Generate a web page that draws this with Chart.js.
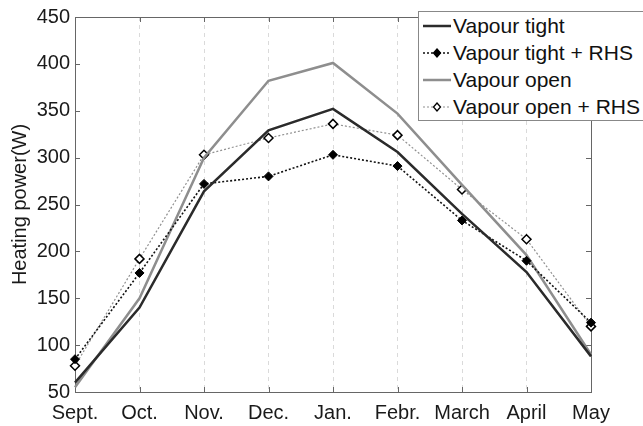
<!DOCTYPE html>
<html>
<head>
<meta charset="utf-8">
<style>
    body { margin: 0; background: #fff; }
    #wrap { position: relative; width: 643px; height: 426px; }
    #legend {
        position: absolute; left: 418px; top: 11px; width: 224px; height: 108px;
        border: 1px solid #888; border-right: none; background: #fff;
        font-family: 'Liberation Sans', Arial, sans-serif; font-size: 21px; color: #111;
    }
    .row { height: 27px; line-height: 27px; display: flex; align-items: center; white-space: nowrap; }
    .row svg { margin-left: 3px; margin-right: 1px; flex: none; }
</style>
</head>
<body>
<div id="wrap">
    <canvas id="heatChart" width="643" height="426"></canvas>
    <div id="legend"></div>
</div>

<script src="https://cdn.jsdelivr.net/npm/chart.js"></script>
<script>
    // data
    const months = ['Sept.', 'Oct.', 'Nov.', 'Dec.', 'Jan.', 'Febr.', 'March', 'April', 'May'];
    const vapourTight = [60, 140, 264, 329, 352, 306, 240, 178, 88];
    const vapourTightRHS = [85, 177, 272, 280, 303, 291, 233, 190, 124];
    const vapourOpen = [55, 150, 300, 382, 401, 347, 271, 196, 90];
    const vapourOpenRHS = [78, 192, 303, 321, 336, 324, 266, 213, 120];
    const yTicks = [50, 100, 150, 200, 250, 300, 350, 400, 450];

    const FONT = "'Liberation Sans', Arial, sans-serif";

    // box around plot + inward tick marks (matlab look)
    const boxPlugin = {
        id: 'box',
        beforeDatasetsDraw(chart) {
            const {ctx, chartArea: a, scales} = chart;
            ctx.save();
            ctx.strokeStyle = '#666';
            ctx.lineWidth = 1;
            ctx.beginPath();
            yTicks.forEach(v => {
                const y = Math.round(scales.y.getPixelForValue(v)) + 0.5;
                ctx.moveTo(a.left, y); ctx.lineTo(a.left + 5, y);
                ctx.moveTo(a.right, y); ctx.lineTo(a.right - 5, y);
            });
            months.forEach((m, i) => {
                const x = Math.round(scales.x.getPixelForValue(i)) + 0.5;
                ctx.moveTo(x, a.bottom); ctx.lineTo(x, a.bottom - 5);
                ctx.moveTo(x, a.top); ctx.lineTo(x, a.top + 5);
            });
            ctx.stroke();
            ctx.strokeRect(Math.round(a.left) + 0.5, Math.round(a.top) + 0.5,
                Math.round(a.right - a.left), Math.round(a.bottom - a.top));
            ctx.restore();
        }
    };

    const datasets = [
        {
            label: 'Vapour tight',
            data: vapourTight,
            borderColor: '#2b2b2b',
            borderWidth: 2.5,
            pointRadius: 0,
            tension: 0
        },
        {
            label: 'Vapour tight + RHS',
            data: vapourTightRHS,
            borderColor: '#111',
            borderWidth: 1.6,
            borderDash: [2, 2],
            pointStyle: 'rectRot',
            pointRadius: 4.5,
            pointBackgroundColor: '#000',
            pointBorderColor: '#000',
            pointBorderWidth: 1,
            tension: 0
        },
        {
            label: 'Vapour open',
            data: vapourOpen,
            borderColor: '#8e8e8e',
            borderWidth: 2.5,
            pointRadius: 0,
            tension: 0
        },
        {
            label: 'Vapour open + RHS',
            data: vapourOpenRHS,
            borderColor: '#909090',
            borderWidth: 1.2,
            borderDash: [2, 2],
            pointStyle: 'rectRot',
            pointRadius: 4.5,
            pointBackgroundColor: '#fff',
            pointBorderColor: '#000',
            pointBorderWidth: 1.5,
            tension: 0
        }
    ];

    new Chart(document.getElementById('heatChart').getContext('2d'), {
        type: 'line',
        data: { labels: months, datasets: datasets },
        options: {
            responsive: false,
            animation: false,
            layout: { padding: { left: 0, top: 16, right: 52, bottom: 0 } },
            scales: {
                x: {
                    offset: false,
                    grid: { color: '#dadada', drawTicks: false, lineWidth: 1 },
                    border: { display: false, dash: [4, 4] },
                    ticks: {
                        autoSkip: false, maxRotation: 0, padding: 9,
                        color: '#1a1a1a', font: { family: FONT, size: 20 }
                    },
                    afterFit: s => { s.height = 34; }
                },
                y: {
                    min: 50,
                    max: 450,
                    grid: { display: false, drawTicks: false },
                    border: { display: false },
                    ticks: {
                        stepSize: 50, padding: 5,
                        color: '#1a1a1a', font: { family: FONT, size: 20 }
                    },
                    title: {
                        display: true,
                        text: 'Heating power(W)',
                        color: '#1a1a1a',
                        font: { family: FONT, size: 20 },
                        padding: { top: 8, bottom: 0 }
                    },
                    afterFit: s => { s.width = 75; }
                }
            },
            plugins: {
                legend: { display: false },
                tooltip: { enabled: false }
            }
        },
        plugins: [boxPlugin]
    });

    // legend drawn as html so it can sit over the plot corner
    function swatch(ds) {
        const dash = ds.borderDash ? ' stroke-dasharray="2 2"' : '';
        let s = '<svg width="30" height="14"><line x1="1" y1="7" x2="29" y2="7" stroke="' + ds.borderColor +
            '" stroke-width="' + ds.borderWidth + '"' + dash + '/>';
        if (ds.pointRadius) {
            s += '<polygon points="15,3 18.5,7 15,11 11.5,7" fill="' + ds.pointBackgroundColor +
                '" stroke="#000" stroke-width="1.3"/>';
        }
        return s + '</svg>';
    }
    document.getElementById('legend').innerHTML = datasets.map(ds =>
        '<div class="row">' + swatch(ds) + '<span>' + ds.label + '</span></div>').join('');
</script>
</body>
</html>
